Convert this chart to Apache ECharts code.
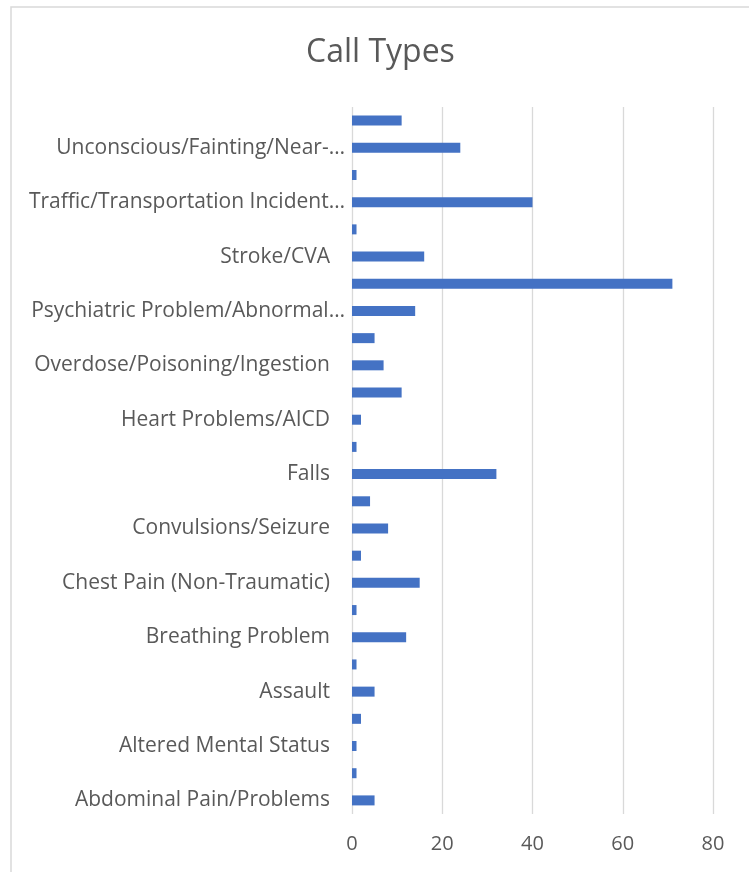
<!DOCTYPE html>
<html>
<head>
<meta charset="utf-8">
<script src="https://cdn.jsdelivr.net/npm/echarts@6/dist/echarts.min.js"></script>
<style>
  html, body { margin: 0; padding: 0; background: #fff; }
  #chart { width: 749px; height: 872px; }
</style>
</head>
<body>
<div id="chart"></div>
<script>
// Call types, bottom to top (only every other label is shown on the axis)
const categories = [
  'Abdominal Pain/Problems',
  'Allergies/Envenomations',
  'Altered Mental Status',
  'Animal Bites/Attacks',
  'Assault',
  'Back Pain (Non-Traumatic)',
  'Breathing Problem',
  'Cardiac/Respiratory Arrest',
  'Chest Pain (Non-Traumatic)',
  'Choking',
  'Convulsions/Seizure',
  'Diabetic Problems',
  'Falls',
  'Headache',
  'Heart Problems/AICD',
  'Hemorrhage/Lacerations',
  'Overdose/Poisoning/Ingestion',
  'Pregnancy/Childbirth',
  'Psychiatric Problem/Abnormal…',
  'Sick Person',
  'Stroke/CVA',
  'Structure Fire',
  'Traffic/Transportation Incident…',
  'Traumatic Injuries',
  'Unconscious/Fainting/Near-…',
  'Unknown Problem/Person Down'
];

const callCounts = [
  5, 1, 1, 2, 5, 1, 12, 1, 15, 2, 8, 4, 32,
  1, 2, 11, 7, 5, 14, 71, 16, 1, 40, 1, 24, 11
];

const xTicks = { min: 0, max: 80, interval: 20 };

const textColor = '#595959';
const gridColor = '#d9d9d9';
const font = '"Open Sans", "DejaVu Sans", sans-serif';

const chart = echarts.init(document.getElementById('chart'));

const labelText = { fontFamily: font, fontSize: 21, color: textColor };

const option = {
  animation: false,
  backgroundColor: '#fff',
  title: {
    text: 'Call Types',
    left: 301,
    top: 32,
    textStyle: {
      fontFamily: font,
      fontSize: 32,
      fontWeight: 'normal',
      color: textColor,
    },
  },
  graphic: [
    {
      // chart area border (Excel style)
      type: 'rect',
      shape: { x: 11, y: 7, width: 760, height: 900 },
      style: { fill: 'none', stroke: gridColor, lineWidth: 1.5 },
      silent: true,
      z: -1,
    },
  ],
  grid: {
    left: 352,
    right: 36,
    top: 107,
    bottom: 58,
    containLabel: false,
  },
  xAxis: {
    type: 'value',
    min: xTicks.min,
    max: xTicks.max,
    interval: xTicks.interval,
    axisLine: { show: false },
    axisTick: { show: false },
    axisLabel: {
      margin: 20,
      fontFamily: font,
      fontSize: 20,
      color: textColor,
    },
    splitLine: {
      show: true,
      lineStyle: { color: gridColor, width: 1.3 },
    },
  },
  yAxis: {
    type: 'category',
    data: categories,
    axisLine: { show: false },
    axisTick: { show: false },
    axisLabel: {
      interval: 1,
      margin: 7,
      ...labelText,
      // Excel lets truncated labels run a bit closer to the axis
      formatter: (v) => (v.endsWith('…') ? `{cut|${v}}` : `{full|${v}}`),
      rich: {
        full: { ...labelText, padding: [0, 15, 0, 0] },
        cut: { ...labelText },
      },
    },
  },
  series: [
    {
      type: 'bar',
      data: callCounts,
      barWidth: 10,
      itemStyle: { color: '#4472c4' },
    },
  ],
};

chart.setOption(option);
</script>
</body>
</html>
